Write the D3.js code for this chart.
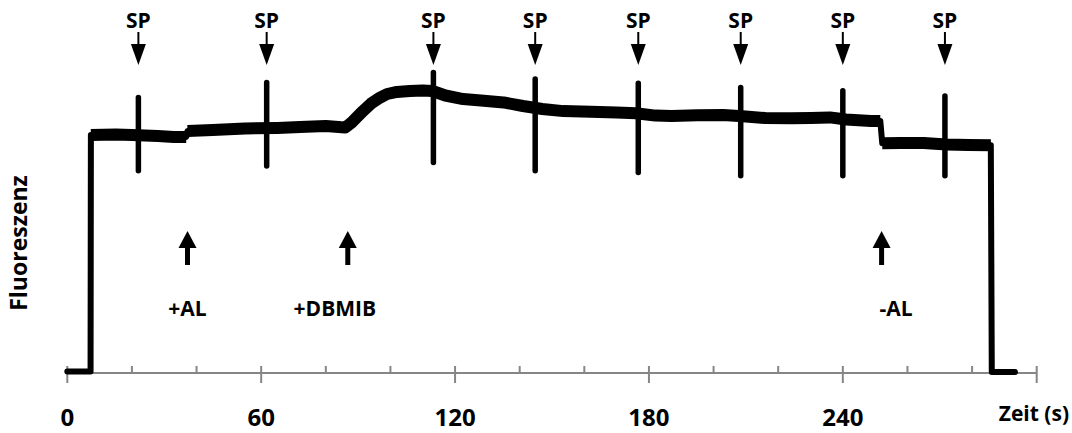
<!DOCTYPE html>
<html lang="de">
<head>
<meta charset="utf-8">
<title>Fluoreszenz</title>
<script src="https://cdn.jsdelivr.net/npm/d3@7/dist/d3.min.js"></script>
<style>
  body { margin: 0; background: #fff; }
  text { font-family: "Open Sans", "DejaVu Sans", sans-serif; font-weight: bold; fill: #000; }
</style>
</head>
<body></body>
<script>

//****************************************************************************************************************************//
// Data

// fluorescence trace: time (s), signal (arbitrary units, 0-100)
var traceTime = [0, 7.2, 7.3, 15, 20, 28, 33, 36.8, 37.2, 45, 55, 65, 72, 80, 84, 86, 88, 91.5, 94, 96.8, 99, 102,
                 106, 110, 113, 117, 122.5, 128, 135, 141, 147, 153.5, 162, 170, 176, 182, 187, 195, 203, 209, 216,
                 224, 230, 236, 241, 248.7, 251.6, 252.2, 258, 265, 272, 279, 285.8, 286.1, 293.3];
var traceValue = [0.5, 0.5, 79.3, 79.5, 79.3, 79, 78.7, 78.7, 80.7, 81, 81.5, 81.7, 82, 82.3, 82, 81.8, 83.5, 87.3, 89.8, 91.8, 93, 93.7,
                  94, 94.2, 94, 92.5, 91.3, 90.8, 90.2, 89, 88, 87.3, 87.1, 86.8, 86.6, 85.8, 85.7, 85.9, 86, 85.6, 85,
                  84.9, 85, 85.2, 84.5, 84, 84, 76.6, 76.7, 76.7, 76.2, 76, 75.9, 0.3, 0.3];

// noisy plateaus (light on) between the steps
var plateaus = [[7.3, 36.8], [37.2, 251.6], [252.2, 285.8]];

// saturation pulses: time, spike top, spike bottom
var pulseTime = [22.0, 61.7, 113.3, 144.8, 176.7, 208.4, 240.0, 271.6];
var pulseHigh = [92.7, 97.7, 101, 98.8, 97.4, 96, 94.9, 93.2];
var pulseLow  = [66.6, 68.2, 69.3, 66.6, 66, 64.9, 64.9, 64.9];

// additions
var eventLabels = ["+AL", "+DBMIB", "-AL"];
var eventTime   = [37.2, 86.8, 252];
var eventLabelTime = [37.2, 82.8, 256.5];

// axis
var xMajorTicks = [0, 60, 120, 180, 240, 300];
var xMinorTicks = d3.range(20, 300, 20).filter(function(d){ return d % 60 != 0; });
var xTickLabels = ["0", "60", "120", "180", "240"];

//****************************************************************************************************************************//
// Canvas

var width = 1072,
    height = 433;

var canvas = d3.select("body")
            .append("svg")
            .attr("width", width)
            .attr("height", height);

canvas.append("rect")
        .attr("width", width)
        .attr("height", height)
        .attr("fill", "#fff");

var x = d3.scaleLinear().domain([0, 300]).range([67.3, 1036.7]);
var y = d3.scaleLinear().domain([0, 100]).range([373, 73]);

var trace = traceTime.map(function(t, i){ return [t, traceValue[i]]; });

//****************************************************************************************************************************//
// X axis

var axisY = y(0);

canvas.append("line")
        .attr("x1", x(0)).attr("x2", x(300))
        .attr("y1", axisY).attr("y2", axisY)
        .attr("stroke", "#868686")
        .attr("stroke-width", 2);

canvas.selectAll(".minorTick")
        .data(xMinorTicks)
        .enter().append("line")
        .attr("x1", function(d){ return x(d); }).attr("x2", function(d){ return x(d); })
        .attr("y1", axisY - 7).attr("y2", axisY)
        .attr("stroke", "#868686")
        .attr("stroke-width", 2);

canvas.selectAll(".majorTick")
        .data(xMajorTicks)
        .enter().append("line")
        .attr("x1", function(d){ return x(d); }).attr("x2", function(d){ return x(d); })
        .attr("y1", axisY - 7).attr("y2", axisY + 10)
        .attr("stroke", "#868686")
        .attr("stroke-width", 2);

canvas.selectAll(".tickLabel")
        .data(xTickLabels)
        .enter().append("text")
        .attr("x", function(d){ return x(+d); })
        .attr("y", 426)
        .attr("text-anchor", "middle")
        .style("font-size", "24px")
        .text(function(d){ return d; });

canvas.append("text")
        .attr("x", 1069)
        .attr("y", 421)
        .attr("text-anchor", "end")
        .style("font-size", "21px")
        .text("Zeit (s)");

canvas.append("text")
        .attr("transform", "translate(27,243) rotate(-90)")
        .attr("text-anchor", "middle")
        .style("font-size", "23px")
        .text("Fluoreszenz");

//****************************************************************************************************************************//
// Trace

var line = d3.line()
        .x(function(d){ return x(d[0]); })
        .y(function(d){ return y(d[1]); });

// thin trace incl. the vertical steps
canvas.append("path")
        .attr("d", line(trace))
        .attr("fill", "none")
        .attr("stroke", "#000")
        .attr("stroke-width", 6)
        .attr("stroke-linejoin", "round")
        .attr("stroke-linecap", "round");

// noise band on the plateaus
plateaus.forEach(function(p){
    var pts = trace.filter(function(d){ return d[0] >= p[0] && d[0] <= p[1]; });
    canvas.append("path")
        .attr("d", line(pts))
        .attr("fill", "none")
        .attr("stroke", "#000")
        .attr("stroke-width", 12)
        .attr("stroke-linejoin", "round")
        .attr("stroke-linecap", "butt");
});

// saturation pulses
canvas.selectAll(".pulse")
        .data(pulseTime)
        .enter().append("line")
        .attr("x1", function(d){ return x(d); }).attr("x2", function(d){ return x(d); })
        .attr("y1", function(d, i){ return y(pulseHigh[i]) + 2.5; })
        .attr("y2", function(d, i){ return y(pulseLow[i]) - 2.5; })
        .attr("stroke", "#000")
        .attr("stroke-width", 5.5)
        .attr("stroke-linecap", "round");

//****************************************************************************************************************************//
// SP arrows

var sp = canvas.selectAll(".sp")
        .data(pulseTime)
        .enter().append("g")
        .attr("transform", function(d){ return "translate(" + x(d) + ",0)"; });

sp.append("text")
        .attr("y", 28)
        .attr("text-anchor", "middle")
        .style("font-size", "21px")
        .text("SP");

sp.append("line")
        .attr("y1", 32).attr("y2", 46)
        .attr("stroke", "#000")
        .attr("stroke-width", 2);

sp.append("path")
        .attr("d", "M -7.5 44 L 7.5 44 L 0 65 Z")
        .attr("fill", "#000");

//****************************************************************************************************************************//
// Addition arrows

eventLabels.forEach(function(label, i){
    var ax = x(eventTime[i]);
    canvas.append("line")
        .attr("x1", ax).attr("x2", ax)
        .attr("y1", 246).attr("y2", 265)
        .attr("stroke", "#000")
        .attr("stroke-width", 5);
    canvas.append("path")
        .attr("d", "M " + (ax - 9) + " 248 L " + (ax + 9) + " 248 L " + ax + " 231 Z")
        .attr("fill", "#000");
    canvas.append("text")
        .attr("x", x(eventLabelTime[i]))
        .attr("y", 316)
        .attr("text-anchor", "middle")
        .style("font-size", "21px")
        .text(label);
});

</script>
</html>
